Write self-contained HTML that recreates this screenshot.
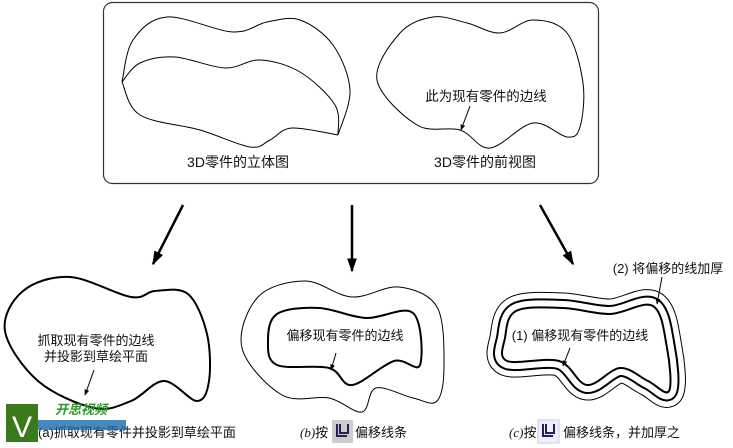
<!DOCTYPE html>
<html><head><meta charset="utf-8">
<style>
html,body{margin:0;padding:0;background:#fff;}
svg{display:block;font-family:"Liberation Sans","Noto Sans CJK SC",sans-serif;}
</style></head>
<body>
<svg id="s" width="733" height="448" viewBox="0 0 733 448" xmlns="http://www.w3.org/2000/svg">
<defs>
<marker id="ah" viewBox="0 0 10 10" refX="9" refY="5" markerWidth="6" markerHeight="6" orient="auto" markerUnits="userSpaceOnUse"><path d="M0,1 L10,5 L0,9 z" fill="#000"/></marker>
<marker id="bh" viewBox="0 0 10 10" refX="9" refY="5" markerWidth="14" markerHeight="14" orient="auto" markerUnits="userSpaceOnUse"><path d="M0,1.5 L10,5 L0,8.5 z" fill="#000"/></marker>
</defs>
<rect x="103.5" y="2.5" width="495" height="181" rx="9" fill="#fff" stroke="#333" stroke-width="1.2"/>
<g id="g" fill="none" stroke="#000"></g>
<g font-size="13" fill="#111">
<text x="238" y="167" text-anchor="middle" font-size="14">3D零件的立体图</text>
<text x="485" y="167" text-anchor="middle" font-size="14">3D零件的前视图</text>
<text x="486" y="101" text-anchor="middle" font-size="13.5">此为现有零件的边线</text>
<text x="96" y="345" text-anchor="middle">抓取现有零件的边线</text>
<text x="96" y="361" text-anchor="middle">并投影到草绘平面</text>
<text x="345" y="340" text-anchor="middle">偏移现有零件的边线</text>
<text x="580" y="340" text-anchor="middle">(1) 偏移现有零件的边线</text>
<text x="668" y="273" text-anchor="middle">(2) 将偏移的线加厚</text>
<text x="38" y="437">(a)抓取现有零件并投影到草绘平面</text>
<text x="300" y="437"><tspan font-family="Liberation Serif" font-style="italic">(b)</tspan>按</text>
<text x="355" y="437">偏移线条</text>
<text x="509" y="437"><tspan font-family="Liberation Serif" font-style="italic">(c)</tspan>按</text>
<text x="563" y="437">偏移线条，并加厚之</text>
</g>
<rect x="332" y="420" width="21" height="23" fill="#ccc"/>
<rect x="538" y="420" width="21" height="23" fill="#eef" stroke="#ccd"/>
<path d="M337,424 v12 h10 M340,424 v9 h8 v-9" fill="none" stroke="#225" stroke-width="2"/>
<path d="M543,424 v12 h10 M546,424 v9 h8 v-9" fill="none" stroke="#225" stroke-width="2"/>
<rect x="6" y="404" width="32" height="38" fill="#3a7a1a"/>
<text x="12" y="437" font-size="30" fill="#fff" font-family="Liberation Sans">V</text>
<text x="55" y="414" font-size="13" font-weight="bold" font-style="italic" fill="#2a9a2a">开思视频</text>
<rect x="38" y="420" width="88" height="10" fill="#1a6ab0" opacity="0.8"/>
</svg>
<script>
function cr(p){var n=p.length,d="M"+p[0][0]+","+p[0][1];for(var i=0;i<n;i++){var a=p[(i-1+n)%n],b=p[i],c=p[(i+1)%n],e=p[(i+2)%n];d+=" C"+(b[0]+(c[0]-a[0])/6).toFixed(1)+","+(b[1]+(c[1]-a[1])/6).toFixed(1)+" "+(c[0]-(e[0]-b[0])/6).toFixed(1)+","+(c[1]-(e[1]-b[1])/6).toFixed(1)+" "+c[0]+","+c[1];}return d+"Z";}
function op(p){var d="M"+p[0][0]+","+p[0][1];for(var i=0;i<p.length-1;i++){var a=p[Math.max(i-1,0)],b=p[i],c=p[i+1],e=p[Math.min(i+2,p.length-1)];d+=" C"+(b[0]+(c[0]-a[0])/6).toFixed(1)+","+(b[1]+(c[1]-a[1])/6).toFixed(1)+" "+(c[0]-(e[0]-b[0])/6).toFixed(1)+","+(c[1]-(e[1]-b[1])/6).toFixed(1)+" "+c[0]+","+c[1];}return d;}
var g=document.getElementById("g"),h="";
function P(d,sw,st,f){h+='<path d="'+d+'" stroke-width="'+sw+'" stroke="'+(st||"#000")+'" fill="'+(f||"none")+'"/>';}
function L(x1,y1,x2,y2,sw,m){h+='<line x1="'+x1+'" y1="'+y1+'" x2="'+x2+'" y2="'+y2+'" stroke="#000" stroke-width="'+sw+'" marker-end="url(#'+m+')"/>';}
P(op([[122,82],[133,40],[167,17],[233,32],[267,22],[300,20],[333,45],[350,90],[338,135]]),1);
P(op([[122,82],[140,63],[175,57],[225,68],[260,60],[300,72],[335,105],[338,135]]),1);
P(op([[122,82],[140,115],[200,130],[250,147],[270,140],[292,128],[338,135]]),1);
P(cr([[377,80],[400,33],[433,17],[467,23],[500,33],[533,20],[567,33],[583,83],[580,127],[567,137],[533,123],[490,148],[460,130],[417,125]]),1);
L(470,106,461,130,1,"ah");
P(cr([[5,331],[23,291],[70,277],[131,297],[155,291],[188,294],[207,334],[209,381],[197,401],[164,381],[131,401],[94,408],[38,381]]),2);
L(94,370,85,395,1,"ah");
L(183,205,153,264,2.5,"bh");L(352,205,352,271,2.5,"bh");L(540,205,573,264,2.5,"bh");
P(cr([[242,348],[258,297],[305,281],[352,297],[399,287],[437,307],[444,365],[437,401],[413,398],[376,388],[362,412],[329,398],[282,395]]),1);
P(cr([[268,341],[277,314],[319,308],[366,318],[413,313],[420,365],[394,361],[352,385],[329,368],[277,365]]),2);
L(336,353,331,370,1,"ah");
var c=cr([[505,338],[516,311],[563,308],[610,314],[653,306],[667,348],[669,391],[648,381],[620,368],[587,385],[559,361],[507,361]]);
P(c,31);P(c,29,"#fff");P(c,18);P(c,14,"#fff");P(c,2,"#000","#fff");
L(662,277,657,304,1,"ah");L(570,348,563,366,1,"ah");
g.innerHTML=h;
</script>
</body></html>
